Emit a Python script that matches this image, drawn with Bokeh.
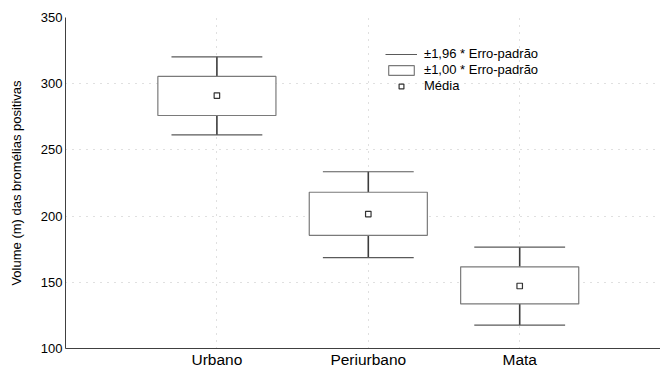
from bokeh.plotting import figure
from bokeh.models import FixedTicker, Legend, LegendItem
from bokeh.embed import file_html
from bokeh.resources import INLINE

# ---- data ----
categories = ["Urbano", "Periurbano", "Mata"]
means = [291.0, 201.5, 147.2]
se_low = [276.0, 185.5, 133.7]     # mean - 1.00 * SE
se_high = [305.5, 218.0, 161.7]    # mean + 1.00 * SE
ci_low = [261.3, 168.6, 117.7]     # mean - 1.96 * SE
ci_high = [320.3, 233.5, 176.5]    # mean + 1.96 * SE
y_ticks = [100, 150, 200, 250, 300, 350]
grid_ticks = [150, 200, 250, 300]

xs = list(range(len(categories)))
box_half = 0.39
cap_half = 0.30

FONT = "Liberation Sans"

p = figure(width=660, height=370, x_range=(-1, 2.93), y_range=(100, 350),
           output_backend="svg", toolbar_location=None,
           min_border_left=65, min_border_right=0,
           min_border_top=17, min_border_bottom=10)
p.outline_line_color = None
p.background_fill_color = "white"
p.border_fill_color = "white"

# grid
p.xgrid.ticker = FixedTicker(ticks=xs)
p.ygrid.ticker = FixedTicker(ticks=grid_ticks)
for g in (p.xgrid, p.ygrid):
    g.grid_line_color = "#c0c0c0"
    g.grid_line_dash = "1 6"
    g.grid_line_width = 1

# axes
p.xaxis.ticker = FixedTicker(ticks=xs)
p.xaxis.major_label_overrides = {i: c for i, c in zip(xs, categories)}
p.yaxis.ticker = FixedTicker(ticks=y_ticks)
for ax in (p.xaxis[0], p.yaxis[0]):
    ax.axis_line_color = "#404040"
    ax.axis_line_width = 1
    ax.major_tick_line_color = None
    ax.minor_tick_line_color = None
    ax.major_tick_in = 0
    ax.major_tick_out = 0
    ax.minor_tick_in = 0
    ax.minor_tick_out = 0
    ax.major_label_text_font = FONT
    ax.major_label_text_color = "black"
p.xaxis.major_label_text_font_size = "15.5px"
p.xaxis.major_label_standoff = 2
p.yaxis.major_label_text_font_size = "13px"
p.yaxis.major_label_standoff = 3
p.yaxis.axis_label = "Volume (m) das bromélias positivas"
p.yaxis.axis_label_text_font = FONT
p.yaxis.axis_label_text_font_size = "13px"
p.yaxis.axis_label_text_font_style = "normal"
p.yaxis.axis_label_text_color = "black"
p.yaxis.axis_label_standoff = 14

# whisker stems (±1.96 SE)
stem_up = p.segment(x0=xs, y0=se_high, x1=xs, y1=ci_high, line_color="#3c3c3c", line_width=1.6)
stem_dn = p.segment(x0=xs, y0=ci_low, x1=xs, y1=se_low, line_color="#3c3c3c", line_width=1.6)
cap_x0 = [x - cap_half for x in xs]
cap_x1 = [x + cap_half for x in xs]
caps_up = p.segment(x0=cap_x0, y0=ci_high, x1=cap_x1, y1=ci_high, line_color="#5a5a5a", line_width=1.2)
caps_dn = p.segment(x0=cap_x0, y0=ci_low, x1=cap_x1, y1=ci_low, line_color="#5a5a5a", line_width=1.2)

# boxes (±1.00 SE)
boxes = p.quad(left=[x - box_half for x in xs], right=[x + box_half for x in xs],
               bottom=se_low, top=se_high, fill_color="white",
               line_color="#7a7a7a", line_width=1.2)

# means
mean_r = p.scatter(x=xs, y=means, marker="square", size=5.5, fill_color="white",
                   line_color="#333333", line_width=1.2)

legend = Legend(items=[
    LegendItem(label="±1,96 * Erro-padrão", renderers=[caps_up]),
    LegendItem(label="±1,00 * Erro-padrão", renderers=[boxes]),
    LegendItem(label="Média", renderers=[mean_r]),
], location=(320, 255))
legend.background_fill_alpha = 0
legend.border_line_color = None
legend.padding = 0
legend.margin = 0
legend.spacing = 1
legend.glyph_width = 32
legend.glyph_height = 12
legend.label_height = 12
legend.label_standoff = 7
legend.label_text_font = FONT
legend.label_text_font_size = "13px"
legend.label_text_color = "black"
p.add_layout(legend)

open("out.html", "w").write(file_html(p, INLINE))
